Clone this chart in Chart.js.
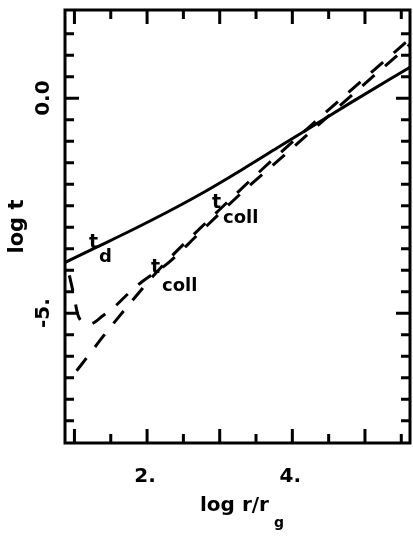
<!DOCTYPE html>
<html>
<head>
<meta charset="utf-8">
<script src="https://cdn.jsdelivr.net/npm/chart.js@4.4.0/dist/chart.umd.min.js"></script>
<style>
  html, body { margin: 0; padding: 0; background: #fff; }
  #wrap { width: 413px; height: 538px; }
</style>
</head>
<body>
<div id="wrap"><canvas id="c" width="413" height="538"></canvas></div>
<script>
// t_d (solid)
const tdX = [0.86, 1.3, 1.8, 2.3, 2.8, 3.3, 3.8, 4.3, 4.8, 5.62];
const tdY = [-3.83, -3.47, -3.06, -2.63, -2.17, -1.67, -1.15, -0.63, -0.11, 0.72];

// t_coll with the hook at small radii (dashed)
const collAX = [0.93, 0.97, 1.0, 1.04, 1.09, 1.2, 1.4, 1.56, 1.75, 1.93, 2.3, 2.7, 3.0, 3.4, 3.8, 4.22, 4.6, 5.0, 5.62];
const collAY = [-4.12, -4.42, -4.65, -5.0, -5.18, -5.26, -5.05, -4.84, -4.53, -4.27, -3.82, -3.17, -2.68, -2.05, -1.46, -0.83, -0.26, 0.34, 1.25];

// t_coll, lower branch (dashed)
const collBX = [1.03, 1.2, 1.4, 1.6, 1.8, 2.0, 2.2, 2.4, 2.6, 3.0, 3.6, 4.4, 5.0, 5.62];
const collBY = [-6.34, -5.97, -5.53, -5.11, -4.70, -4.30, -3.92, -3.57, -3.24, -2.59, -1.63, -0.42, 0.47, 1.38];

const xTicks = [1, 1.5, 2, 2.5, 3, 3.5, 4, 4.5, 5, 5.5];
const yTicks = [-7.5, -7, -6.5, -6, -5.5, -5, -4.5, -4, -3.5, -3, -2.5, -2, -1.5, -1, -0.5, 0, 0.5, 1, 1.5];
const xLabelValues = [2, 4];
const xLabels = ['2.', '4.'];
const yLabelValues = [-5, 0];
const yLabels = ['-5.', '0.0'];

const FONT = '"DejaVu Sans", sans-serif';

function pts(xs, ys) {
  return xs.map((x, i) => ({x: x, y: ys[i]}));
}

const framePlugin = {
  id: 'frame',
  afterDatasetsDraw(chart) {
    const {ctx, chartArea: a, scales: {x, y}} = chart;
    ctx.save();
    ctx.strokeStyle = '#000';
    ctx.fillStyle = '#000';
    ctx.lineWidth = 3;
    ctx.lineCap = 'butt';
    ctx.strokeRect(a.left, a.top, a.right - a.left, a.bottom - a.top);

    ctx.beginPath();
    xTicks.forEach(v => {
      const px = x.getPixelForValue(v);
      const len = Number.isInteger(v) ? 14 : 9;
      ctx.moveTo(px, a.bottom); ctx.lineTo(px, a.bottom - len);
      ctx.moveTo(px, a.top); ctx.lineTo(px, a.top + len);
    });
    yTicks.forEach(v => {
      const py = y.getPixelForValue(v);
      const len = yLabelValues.includes(v) ? 14 : 9;
      ctx.moveTo(a.left, py); ctx.lineTo(a.left + len, py);
      ctx.moveTo(a.right, py); ctx.lineTo(a.right - len, py);
    });
    ctx.stroke();

    // tick labels
    ctx.font = 'bold 20px ' + FONT;
    ctx.textAlign = 'center';
    ctx.textBaseline = 'alphabetic';
    xLabelValues.forEach((v, i) => {
      ctx.fillText(xLabels[i], x.getPixelForValue(v) - 2, 482);
    });
    yLabelValues.forEach((v, i) => {
      ctx.save();
      ctx.translate(44, y.getPixelForValue(v));
      ctx.rotate(-Math.PI / 2);
      ctx.textBaseline = 'middle';
      ctx.fillText(yLabels[i], 0, 0);
      ctx.restore();
    });

    // x axis title with subscript
    ctx.textAlign = 'left';
    ctx.font = 'bold 20px ' + FONT;
    const main = 'log r/r';
    ctx.fillText(main, 200, 511);
    const w = ctx.measureText(main).width;
    ctx.font = 'bold 14px ' + FONT;
    ctx.fillText('g', 200 + w + 5, 527);

    // curve labels
    const lab = (t, sub, tx, ty, sx, sy) => {
      ctx.font = 'bold 19px ' + FONT;
      ctx.fillText(t, tx, ty);
      ctx.font = 'bold 18px ' + FONT;
      ctx.fillText(sub, sx, sy);
    };
    lab('t', 'd', 89, 248, 99, 262);
    lab('t', 'coll', 151, 273, 162, 291);
    lab('t', 'coll', 212, 208, 223, 223);
    ctx.restore();
  }
};

new Chart(document.getElementById('c'), {
  type: 'scatter',
  data: {
    datasets: [
      {label: 't_d', data: pts(tdX, tdY), showLine: true, borderColor: '#000', borderWidth: 3, pointRadius: 0, cubicInterpolationMode: 'monotone'},
      {label: 't_coll', data: pts(collAX, collAY), showLine: true, borderColor: '#000', borderWidth: 3, borderDash: [16, 14], pointRadius: 0, cubicInterpolationMode: 'monotone'},
      {label: 't_coll 2', data: pts(collBX, collBY), showLine: true, borderColor: '#000', borderWidth: 3, borderDash: [16, 14], pointRadius: 0, cubicInterpolationMode: 'monotone'}
    ]
  },
  options: {
    responsive: false,
    animation: false,
    events: [],
    layout: {padding: {left: 0, top: 10, right: 3, bottom: 0}},
    plugins: {legend: {display: false}, tooltip: {enabled: false}},
    scales: {
      x: {
        type: 'linear', min: 0.87, max: 5.62,
        grid: {display: false}, border: {display: false}, ticks: {display: false},
        afterFit(s) { s.height = 95; }
      },
      y: {
        type: 'linear', min: -8.02, max: 2.05,
        grid: {display: false}, border: {display: false}, ticks: {display: false},
        title: {display: true, text: 'log t', color: '#000', font: {family: FONT, size: 21, weight: 'bold'}, padding: {top: 5, bottom: 0}},
        afterFit(s) { s.width = 65; }
      }
    }
  },
  plugins: [framePlugin]
});
</script>
</body>
</html>
